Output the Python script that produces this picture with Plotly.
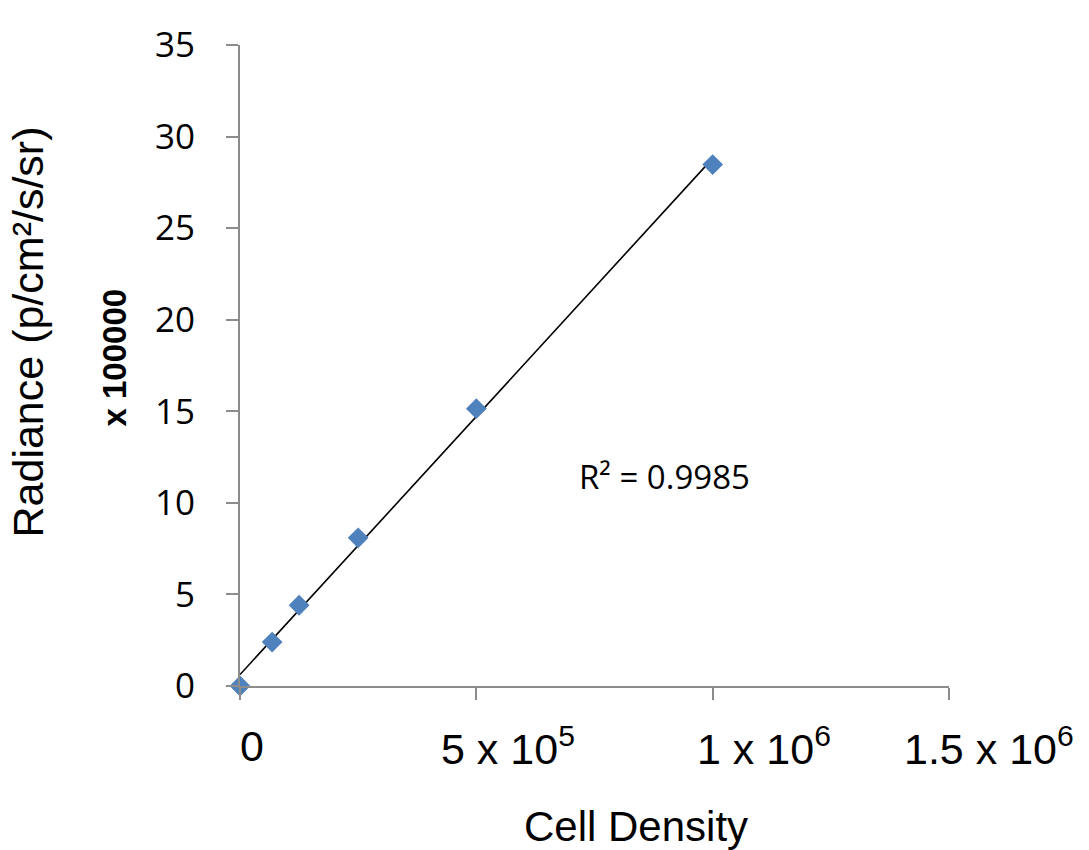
import numpy as np
import plotly.graph_objects as go

# Data
cell_density = [0, 68000, 125000, 250000, 500000, 1000000]
radiance = [0.0, 2.40, 4.41, 8.09, 15.14, 28.47]  # x 100000

x_tick_vals = [0, 500000, 1000000, 1500000]
x_tick_text = ["0", "5 x 10<sup>5</sup>", "1 x 10<sup>6</sup>", "1.5 x 10<sup>6</sup>"]
x_tick_shift = [12, 32, 51, 40]
y_tick_vals = [0, 5, 10, 15, 20, 25, 30, 35]
r2_label = "R² = 0.9985"

# Linear trendline
slope, intercept = np.polyfit(cell_density, radiance, 1)
trend_x = [min(cell_density), max(cell_density)]
trend_y = [slope * v + intercept for v in trend_x]

AXIS = "#8c8c8c"
fig = go.Figure()
fig.add_trace(go.Scatter(x=trend_x, y=trend_y, mode="lines",
                         line=dict(color="black", width=1.6),
                         showlegend=False, hoverinfo="skip"))
fig.add_trace(go.Scatter(x=cell_density, y=radiance, mode="markers",
                         marker=dict(symbol="diamond", size=16, color="#4f81bd"),
                         showlegend=False, cliponaxis=False))

fig.update_layout(
    width=1081, height=842,
    margin=dict(l=232, r=140, t=18, b=164),
    paper_bgcolor="white", plot_bgcolor="white",
    xaxis=dict(range=[0, 1500000], tickvals=x_tick_vals, showticklabels=False,
               ticks="outside", ticklen=12, tickwidth=2, tickcolor=AXIS,
               showline=True, linecolor=AXIS, linewidth=2,
               showgrid=False, zeroline=False),
    yaxis=dict(range=[0, 35], tickvals=y_tick_vals,
               ticks="outside", ticklen=12, tickwidth=2, tickcolor=AXIS,
               ticklabelstandoff=24, ticklabeloverflow="allow",
               tickfont=dict(family="Open Sans", size=35, color="black"),
               showline=True, linecolor=AXIS, linewidth=2,
               showgrid=False, zeroline=False),
)

annotations = []
for v, t, s in zip(x_tick_vals, x_tick_text, x_tick_shift):
    annotations.append(dict(x=v, y=0, xref="x", yref="paper", text=t, showarrow=False,
                            xanchor="center", yanchor="middle", xshift=s, yshift=-60,
                            font=dict(family="Liberation Sans", size=43, color="black")))
annotations += [
    dict(x=0.5, y=0, xref="paper", yref="paper", text="Cell Density", showarrow=False,
         xanchor="center", yanchor="middle", yshift=-140, xshift=41,
         font=dict(family="Liberation Sans", size=42, color="black")),
    dict(x=0, y=0.5, xref="paper", yref="paper", text="Radiance (p/cm²/s/sr)",
         showarrow=False, textangle=-90, xanchor="center", yanchor="middle",
         xshift=-213, yshift=33,
         font=dict(family="Liberation Sans", size=43, color="black")),
    dict(x=0, y=0.5, xref="paper", yref="paper", text="<b>x 100000</b>",
         showarrow=False, textangle=-90, xanchor="center", yanchor="middle",
         xshift=-126, yshift=8,
         font=dict(family="Liberation Sans", size=33, color="black")),
    dict(x=0.4925, y=0.327, xref="paper", yref="paper", text=r2_label, showarrow=False,
         xanchor="left", yanchor="middle", xshift=-12,
         font=dict(family="Open Sans", size=33, color="black")),
]
fig.update_layout(annotations=annotations)
fig.write_html("out.html")
